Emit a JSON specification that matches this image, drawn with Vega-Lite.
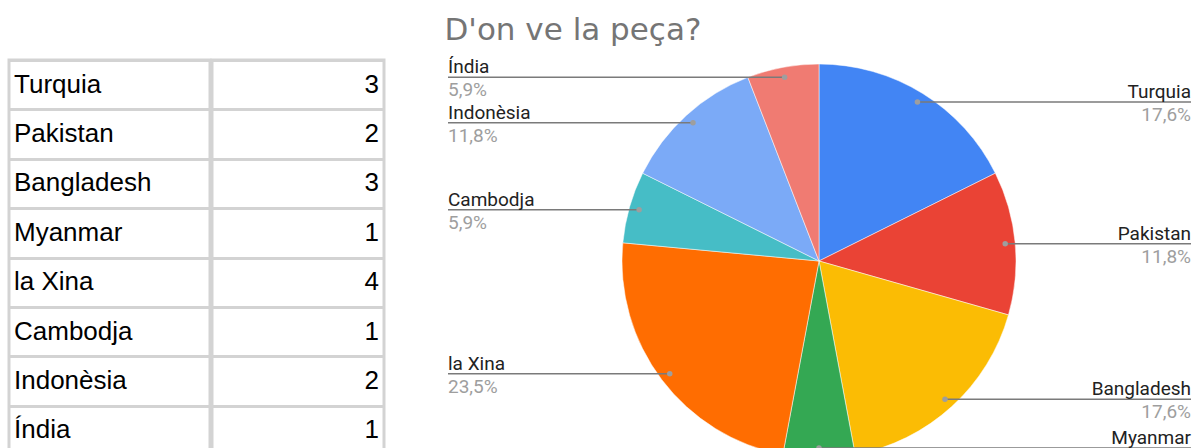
{
  "$schema": "https://vega.github.io/schema/vega-lite/v6.json",
  "padding": {"left": 7, "top": 15, "right": 0, "bottom": 0},
  "background": "#ffffff",
  "title": {"text": "D'on ve la peça?", "anchor": "start", "dx": 437, "font": "DejaVu Sans", "fontSize": 31, "fontWeight": "normal", "color": "#757575", "offset": 11},
  "datasets": {
    "peces": [
      {"pais": "Turquia", "peces": 3},
      {"pais": "Pakistan", "peces": 2},
      {"pais": "Bangladesh", "peces": 3},
      {"pais": "Myanmar", "peces": 1},
      {"pais": "la Xina", "peces": 4},
      {"pais": "Cambodja", "peces": 1},
      {"pais": "Indonèsia", "peces": 2},
      {"pais": "Índia", "peces": 1}
    ]
  },
  "config": {
    "view": {"stroke": null},
    "locale": {"number": {"decimal": ",", "thousands": ".", "grouping": [3], "currency": ["", " €"]}}
  },
  "spacing": 61,
  "hconcat": [
    {
      "spacing": -3,
      "hconcat": [
        {
          "width": 201,
          "height": 395,
          "data": {"name": "peces"},
          "view": {"stroke": "#d3d3d3", "strokeWidth": 3},
          "mark": {"type": "text", "align": "left", "baseline": "middle", "dx": 5, "font": "Liberation Sans", "fontSize": 26, "color": "#000000"},
          "encoding": {
            "y": {"field": "pais", "type": "nominal", "sort": null, "scale": {"type": "band", "paddingInner": 0, "paddingOuter": 0}, "axis": {"title": null, "labels": false, "ticks": false, "domain": false, "grid": true, "tickBand": "extent", "gridColor": "#d3d3d3", "gridWidth": 3, "gridOpacity": 1}},
            "x": {"datum": 0, "scale": {"domain": [0, 1]}, "axis": null},
            "text": {"field": "pais", "type": "nominal"}
          }
        },
        {
          "width": 172,
          "height": 395,
          "data": {"name": "peces"},
          "view": {"stroke": "#d3d3d3", "strokeWidth": 3},
          "mark": {"type": "text", "align": "right", "baseline": "middle", "dx": -5, "font": "Liberation Sans", "fontSize": 26, "color": "#000000"},
          "encoding": {
            "y": {"field": "pais", "type": "nominal", "sort": null, "scale": {"type": "band", "paddingInner": 0, "paddingOuter": 0}, "axis": {"title": null, "labels": false, "ticks": false, "domain": false, "grid": true, "tickBand": "extent", "gridColor": "#d3d3d3", "gridWidth": 3, "gridOpacity": 1}},
            "x": {"datum": 1, "scale": {"domain": [0, 1]}, "axis": null},
            "text": {"field": "peces", "type": "quantitative"}
          }
        }
      ]
    },
    {
      "width": 744,
      "height": 402,
      "data": {"name": "peces"},
      "transform": [
        {"window": [{"op": "row_number", "as": "ordre"}]},
        {"joinaggregate": [{"op": "sum", "field": "peces", "as": "total"}]},
        {"window": [{"op": "sum", "field": "peces", "as": "acum"}], "sort": [{"field": "ordre"}], "frame": [null, 0]},
        {"calculate": "datum.peces / datum.total", "as": "pct"},
        {"calculate": "2 * PI * (datum.acum - datum.peces / 2) / datum.total", "as": "angle"},
        {"calculate": "187 * sin(datum.angle)", "as": "px"},
        {"calculate": "187 * cos(datum.angle)", "as": "py"},
        {"calculate": "datum.px >= 0 ? 372 : -371", "as": "edge"}
      ],
      "layer": [
        {
          "mark": {"type": "arc", "outerRadius": 197, "stroke": "#ffffff", "strokeWidth": 0.5},
          "encoding": {
            "theta": {"field": "peces", "type": "quantitative", "stack": true},
            "order": {"field": "ordre", "type": "quantitative"},
            "color": {"field": "pais", "type": "nominal", "sort": null, "legend": null,
              "scale": {"domain": ["Turquia", "Pakistan", "Bangladesh", "Myanmar", "la Xina", "Cambodja", "Indonèsia", "Índia"],
                        "range": ["#4285f4", "#ea4335", "#fbbc04", "#34a853", "#ff6d01", "#46bdc6", "#7baaf7", "#f07b72"]}}
          }
        },
        {
          "mark": {"type": "rule", "color": "#7a7a7a", "strokeWidth": 1.5},
          "encoding": {
            "x": {"field": "px", "type": "quantitative", "scale": {"domain": [-372, 372], "nice": false, "zero": false}, "axis": null},
            "x2": {"field": "edge"},
            "y": {"field": "py", "type": "quantitative", "scale": {"domain": [-201, 201], "nice": false, "zero": false}, "axis": null}
          }
        },
        {
          "mark": {"type": "point", "filled": true, "size": 30, "color": "#9e9e9e", "opacity": 1},
          "encoding": {
            "x": {"field": "px", "type": "quantitative"},
            "y": {"field": "py", "type": "quantitative"}
          }
        },
        {
          "transform": [{"filter": "datum.px >= 0"}],
          "mark": {"type": "text", "align": "right", "baseline": "alphabetic", "dy": -4, "font": "Roboto", "fontSize": 19, "color": "#222222"},
          "encoding": {
            "x": {"field": "edge", "type": "quantitative"},
            "y": {"field": "py", "type": "quantitative"},
            "text": {"field": "pais", "type": "nominal"}
          }
        },
        {
          "transform": [{"filter": "datum.px >= 0"}],
          "mark": {"type": "text", "align": "right", "baseline": "alphabetic", "dy": 19, "font": "Roboto", "fontSize": 19, "color": "#9e9e9e"},
          "encoding": {
            "x": {"field": "edge", "type": "quantitative"},
            "y": {"field": "py", "type": "quantitative"},
            "text": {"field": "pct", "type": "quantitative", "format": ".1%"}
          }
        },
        {
          "transform": [{"filter": "datum.px < 0"}],
          "mark": {"type": "text", "align": "left", "baseline": "alphabetic", "dy": -4, "font": "Roboto", "fontSize": 19, "color": "#222222"},
          "encoding": {
            "x": {"field": "edge", "type": "quantitative"},
            "y": {"field": "py", "type": "quantitative"},
            "text": {"field": "pais", "type": "nominal"}
          }
        },
        {
          "transform": [{"filter": "datum.px < 0"}],
          "mark": {"type": "text", "align": "left", "baseline": "alphabetic", "dy": 19, "font": "Roboto", "fontSize": 19, "color": "#9e9e9e"},
          "encoding": {
            "x": {"field": "edge", "type": "quantitative"},
            "y": {"field": "py", "type": "quantitative"},
            "text": {"field": "pct", "type": "quantitative", "format": ".1%"}
          }
        }
      ]
    }
  ]
}
